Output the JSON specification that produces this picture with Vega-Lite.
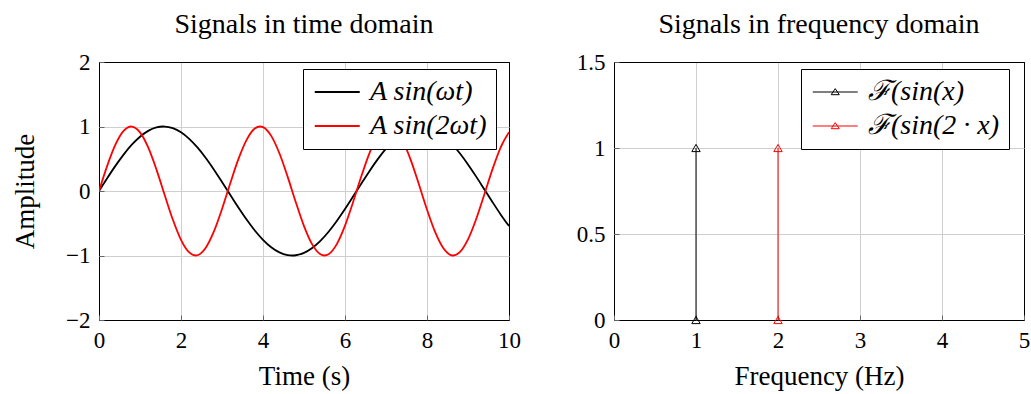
{
  "$schema": "https://vega.github.io/schema/vega-lite/v6.json",
  "padding": {"left": 11, "top": 10, "right": 5, "bottom": 5},
  "bounds": "flush",
  "spacing": 105,
  "background": "white",
  "config": {
    "font": "Liberation Serif",
    "view": {"stroke": "#000", "strokeWidth": 1},
    "axis": {
      "domain": false,
      "grid": true,
      "gridWidth": 1,
      "ticks": true,
      "tickColor": "#666",
      "tickSize": -5,
      "labelFont": "Liberation Serif",
      "labelFontSize": 23,
      "labelColor": "#000",
      "labelPadding": 14,
      "titleFont": "Liberation Serif",
      "titleFontSize": 27,
      "titleFontWeight": "normal",
      "titleColor": "#000",
      "labelFlush": false,
      "labelOverlap": false
    },
    "title": {"font": "Liberation Serif", "fontSize": 28, "fontWeight": "normal", "color": "#000", "offset": 12},
    "legend": {
      "labelFont": "Liberation Serif",
      "labelFontSize": 28,
      "labelColor": "#000",
      "strokeColor": "#000",
      "fillColor": "#fff",
      "padding": 9,
      "cornerRadius": 0,
      "rowPadding": 6,
      "labelOffset": 30,
      "title": null
    }
  },
  "resolve": {"scale": {"color": "independent"}, "legend": {"color": "independent"}},
  "datasets": {
    "time": [
      {"t": 0.0, "v": 0.0, "s": "A sin(ωt)"},
      {"t": 0.2, "v": 0.1987, "s": "A sin(ωt)"},
      {"t": 0.4, "v": 0.3894, "s": "A sin(ωt)"},
      {"t": 0.6, "v": 0.5646, "s": "A sin(ωt)"},
      {"t": 0.8, "v": 0.7174, "s": "A sin(ωt)"},
      {"t": 1.0, "v": 0.8415, "s": "A sin(ωt)"},
      {"t": 1.2, "v": 0.932, "s": "A sin(ωt)"},
      {"t": 1.4, "v": 0.9854, "s": "A sin(ωt)"},
      {"t": 1.6, "v": 0.9996, "s": "A sin(ωt)"},
      {"t": 1.8, "v": 0.9738, "s": "A sin(ωt)"},
      {"t": 2.0, "v": 0.9093, "s": "A sin(ωt)"},
      {"t": 2.2, "v": 0.8085, "s": "A sin(ωt)"},
      {"t": 2.4, "v": 0.6755, "s": "A sin(ωt)"},
      {"t": 2.6, "v": 0.5155, "s": "A sin(ωt)"},
      {"t": 2.8, "v": 0.335, "s": "A sin(ωt)"},
      {"t": 3.0, "v": 0.1411, "s": "A sin(ωt)"},
      {"t": 3.2, "v": -0.0584, "s": "A sin(ωt)"},
      {"t": 3.4, "v": -0.2555, "s": "A sin(ωt)"},
      {"t": 3.6, "v": -0.4425, "s": "A sin(ωt)"},
      {"t": 3.8, "v": -0.6119, "s": "A sin(ωt)"},
      {"t": 4.0, "v": -0.7568, "s": "A sin(ωt)"},
      {"t": 4.2, "v": -0.8716, "s": "A sin(ωt)"},
      {"t": 4.4, "v": -0.9516, "s": "A sin(ωt)"},
      {"t": 4.6, "v": -0.9937, "s": "A sin(ωt)"},
      {"t": 4.8, "v": -0.9962, "s": "A sin(ωt)"},
      {"t": 5.0, "v": -0.9589, "s": "A sin(ωt)"},
      {"t": 5.2, "v": -0.8835, "s": "A sin(ωt)"},
      {"t": 5.4, "v": -0.7728, "s": "A sin(ωt)"},
      {"t": 5.6, "v": -0.6313, "s": "A sin(ωt)"},
      {"t": 5.8, "v": -0.4646, "s": "A sin(ωt)"},
      {"t": 6.0, "v": -0.2794, "s": "A sin(ωt)"},
      {"t": 6.2, "v": -0.0831, "s": "A sin(ωt)"},
      {"t": 6.4, "v": 0.1165, "s": "A sin(ωt)"},
      {"t": 6.6, "v": 0.3115, "s": "A sin(ωt)"},
      {"t": 6.8, "v": 0.4941, "s": "A sin(ωt)"},
      {"t": 7.0, "v": 0.657, "s": "A sin(ωt)"},
      {"t": 7.2, "v": 0.7937, "s": "A sin(ωt)"},
      {"t": 7.4, "v": 0.8987, "s": "A sin(ωt)"},
      {"t": 7.6, "v": 0.9679, "s": "A sin(ωt)"},
      {"t": 7.8, "v": 0.9985, "s": "A sin(ωt)"},
      {"t": 8.0, "v": 0.9894, "s": "A sin(ωt)"},
      {"t": 8.2, "v": 0.9407, "s": "A sin(ωt)"},
      {"t": 8.4, "v": 0.8546, "s": "A sin(ωt)"},
      {"t": 8.6, "v": 0.7344, "s": "A sin(ωt)"},
      {"t": 8.8, "v": 0.5849, "s": "A sin(ωt)"},
      {"t": 9.0, "v": 0.4121, "s": "A sin(ωt)"},
      {"t": 9.2, "v": 0.2229, "s": "A sin(ωt)"},
      {"t": 9.4, "v": 0.0248, "s": "A sin(ωt)"},
      {"t": 9.6, "v": -0.1743, "s": "A sin(ωt)"},
      {"t": 9.8, "v": -0.3665, "s": "A sin(ωt)"},
      {"t": 10.0, "v": -0.544, "s": "A sin(ωt)"},
      {"t": 0.0, "v": 0.0, "s": "A sin(2ωt)"},
      {"t": 0.2, "v": 0.3894, "s": "A sin(2ωt)"},
      {"t": 0.4, "v": 0.7174, "s": "A sin(2ωt)"},
      {"t": 0.6, "v": 0.932, "s": "A sin(2ωt)"},
      {"t": 0.8, "v": 0.9996, "s": "A sin(2ωt)"},
      {"t": 1.0, "v": 0.9093, "s": "A sin(2ωt)"},
      {"t": 1.2, "v": 0.6755, "s": "A sin(2ωt)"},
      {"t": 1.4, "v": 0.335, "s": "A sin(2ωt)"},
      {"t": 1.6, "v": -0.0584, "s": "A sin(2ωt)"},
      {"t": 1.8, "v": -0.4425, "s": "A sin(2ωt)"},
      {"t": 2.0, "v": -0.7568, "s": "A sin(2ωt)"},
      {"t": 2.2, "v": -0.9516, "s": "A sin(2ωt)"},
      {"t": 2.4, "v": -0.9962, "s": "A sin(2ωt)"},
      {"t": 2.6, "v": -0.8835, "s": "A sin(2ωt)"},
      {"t": 2.8, "v": -0.6313, "s": "A sin(2ωt)"},
      {"t": 3.0, "v": -0.2794, "s": "A sin(2ωt)"},
      {"t": 3.2, "v": 0.1165, "s": "A sin(2ωt)"},
      {"t": 3.4, "v": 0.4941, "s": "A sin(2ωt)"},
      {"t": 3.6, "v": 0.7937, "s": "A sin(2ωt)"},
      {"t": 3.8, "v": 0.9679, "s": "A sin(2ωt)"},
      {"t": 4.0, "v": 0.9894, "s": "A sin(2ωt)"},
      {"t": 4.2, "v": 0.8546, "s": "A sin(2ωt)"},
      {"t": 4.4, "v": 0.5849, "s": "A sin(2ωt)"},
      {"t": 4.6, "v": 0.2229, "s": "A sin(2ωt)"},
      {"t": 4.8, "v": -0.1743, "s": "A sin(2ωt)"},
      {"t": 5.0, "v": -0.544, "s": "A sin(2ωt)"},
      {"t": 5.2, "v": -0.8281, "s": "A sin(2ωt)"},
      {"t": 5.4, "v": -0.9812, "s": "A sin(2ωt)"},
      {"t": 5.6, "v": -0.9797, "s": "A sin(2ωt)"},
      {"t": 5.8, "v": -0.8233, "s": "A sin(2ωt)"},
      {"t": 6.0, "v": -0.5366, "s": "A sin(2ωt)"},
      {"t": 6.2, "v": -0.1656, "s": "A sin(2ωt)"},
      {"t": 6.4, "v": 0.2315, "s": "A sin(2ωt)"},
      {"t": 6.6, "v": 0.5923, "s": "A sin(2ωt)"},
      {"t": 6.8, "v": 0.8597, "s": "A sin(2ωt)"},
      {"t": 7.0, "v": 0.9911, "s": "A sin(2ωt)"},
      {"t": 7.2, "v": 0.9657, "s": "A sin(2ωt)"},
      {"t": 7.4, "v": 0.7883, "s": "A sin(2ωt)"},
      {"t": 7.6, "v": 0.4864, "s": "A sin(2ωt)"},
      {"t": 7.8, "v": 0.1078, "s": "A sin(2ωt)"},
      {"t": 8.0, "v": -0.2879, "s": "A sin(2ωt)"},
      {"t": 8.2, "v": -0.6381, "s": "A sin(2ωt)"},
      {"t": 8.4, "v": -0.8876, "s": "A sin(2ωt)"},
      {"t": 8.6, "v": -0.9969, "s": "A sin(2ωt)"},
      {"t": 8.8, "v": -0.9489, "s": "A sin(2ωt)"},
      {"t": 9.0, "v": -0.751, "s": "A sin(2ωt)"},
      {"t": 9.2, "v": -0.4346, "s": "A sin(2ωt)"},
      {"t": 9.4, "v": -0.0496, "s": "A sin(2ωt)"},
      {"t": 9.6, "v": 0.3433, "s": "A sin(2ωt)"},
      {"t": 9.8, "v": 0.6819, "s": "A sin(2ωt)"},
      {"t": 10.0, "v": 0.9129, "s": "A sin(2ωt)"}
    ],
    "freq": [
      {"f": 1, "a": 0, "s": "ℱ(sin(x)"},
      {"f": 1, "a": 1, "s": "ℱ(sin(x)"},
      {"f": 2, "a": 0, "s": "ℱ(sin(2 · x)"},
      {"f": 2, "a": 1, "s": "ℱ(sin(2 · x)"}
    ]
  },
  "hconcat": [
    {
      "title": "Signals in time domain",
      "width": 410,
      "height": 258,
      "view": {"stroke": "#000", "strokeWidth": 1},
      "data": {"name": "time"},
      "mark": {"type": "line", "strokeWidth": 1.8, "interpolate": "cardinal", "clip": true},
      "encoding": {
        "x": {"field": "t", "type": "quantitative", "title": "Time (s)",
              "scale": {"domain": [0, 10], "nice": false, "zero": false},
              "axis": {"values": [0, 2, 4, 6, 8, 10], "format": "d", "titlePadding": 11,
                       "gridColor": {"condition": {"test": "datum.value == 0 || datum.value == 10", "value": "#000"}, "value": "#cfcfcf"}}},
        "y": {"field": "v", "type": "quantitative", "title": "Amplitude",
              "scale": {"domain": [-2, 2], "nice": false, "zero": false},
              "axis": {"values": [-2, -1, 0, 1, 2], "format": "d", "titlePadding": 26,
                       "gridColor": {"condition": {"test": "datum.value == -2 || datum.value == 2", "value": "#000"}, "value": "#cfcfcf"}}},
        "color": {"field": "s", "type": "nominal",
                  "scale": {"domain": ["A sin(ωt)", "A sin(2ωt)"], "range": ["#000000", "#ff0000"]},
                  "legend": {"orient": "none", "legendX": 204, "legendY": 7, "symbolType": "M-1,0H3", "symbolSize": 506, "symbolStrokeWidth": 2, "labelFontStyle": "italic"}}
      }
    },
    {
      "title": "Signals in frequency domain",
      "width": 410,
      "height": 258,
      "view": {"stroke": "#000", "strokeWidth": 1},
      "data": {"name": "freq"},
      "mark": {"type": "line", "strokeWidth": 1, "point": {"shape": "triangle-up", "filled": false, "size": 70, "strokeWidth": 1}},
      "encoding": {
        "x": {"field": "f", "type": "quantitative", "title": "Frequency (Hz)",
              "scale": {"domain": [0, 5], "nice": false, "zero": false},
              "axis": {"values": [0, 1, 2, 3, 4, 5], "format": "d", "titlePadding": 11,
                       "gridColor": {"condition": {"test": "datum.value == 0 || datum.value == 5", "value": "#000"}, "value": "#cfcfcf"}}},
        "y": {"field": "a", "type": "quantitative", "title": null,
              "scale": {"domain": [0, 1.5], "nice": false, "zero": false},
              "axis": {"values": [0, 0.5, 1, 1.5], "format": "~g",
                       "gridColor": {"condition": {"test": "datum.value == 0 || datum.value == 1.5", "value": "#000"}, "value": "#cfcfcf"}}},
        "color": {"field": "s", "type": "nominal",
                  "scale": {"domain": ["ℱ(sin(x)", "ℱ(sin(2 · x)"], "range": ["#000000", "#ff0000"]},
                  "legend": {"orient": "none", "legendX": 187, "legendY": 7, "symbolType": "M-1,0H3M1,-0.3L1.36,0.24L0.64,0.24Z", "symbolSize": 506, "symbolStrokeWidth": 1, "symbolFillColor": "transparent", "labelFontStyle": "italic"}}
      }
    }
  ]
}
